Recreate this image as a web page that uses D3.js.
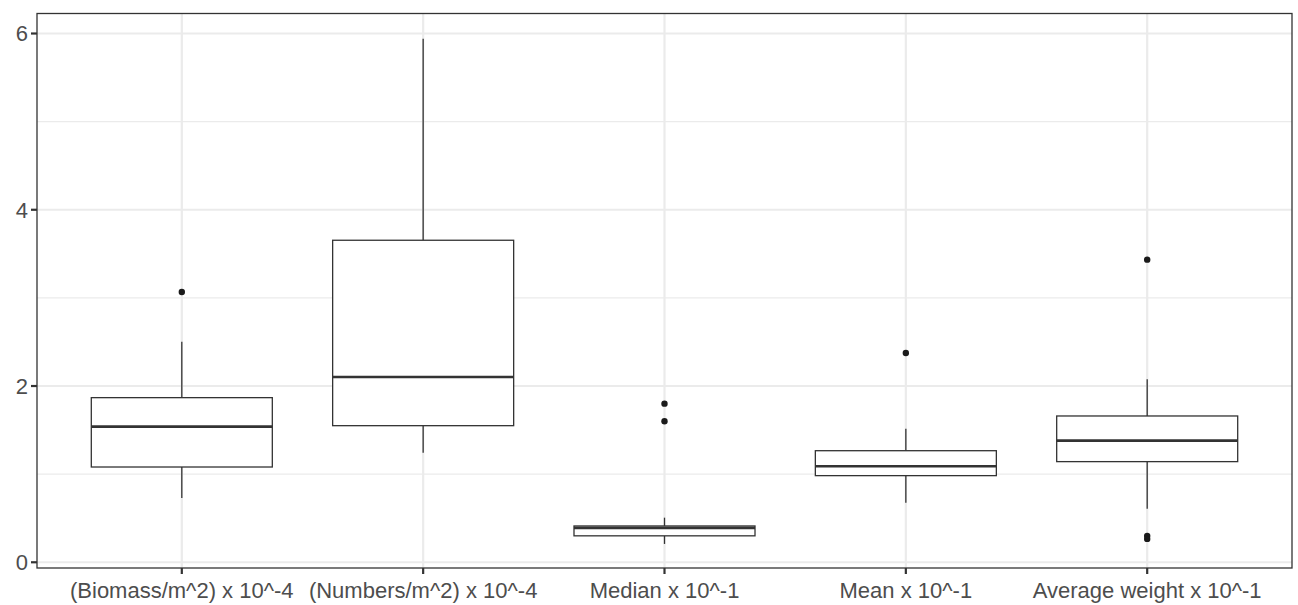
<!DOCTYPE html>
<html><head><meta charset="utf-8">
<script src="https://cdn.jsdelivr.net/npm/d3@7"></script>
<style>body{margin:0;background:#fff}</style></head>
<body><svg id="c" width="1298" height="605"></svg>
<script>
const categories = ["(Biomass/m^2) x 10^-4", "(Numbers/m^2) x 10^-4", "Median x 10^-1", "Mean x 10^-1", "Average weight x 10^-1"];
const lowerWhisker = [0.73, 1.244, 0.208, 0.676, 0.608];
const q1 = [1.081, 1.55, 0.30, 0.983, 1.142];
const median = [1.539, 2.103, 0.39, 1.089, 1.38];
const q3 = [1.868, 3.654, 0.412, 1.266, 1.66];
const upperWhisker = [2.503, 5.94, 0.506, 1.516, 2.076];
const outliers = [[3.067], [], [1.80, 1.60], [2.375], [3.434, 0.30, 0.265]];
const yTicks = [0, 2, 4, 6];
const yMinor = [1, 3, 5];

const svg = d3.select("#c");
const L = 37, R = 1292, T = 13.5, B = 568;
const ys = d3.scaleLinear().domain([-0.065, 6.227]).range([B, T]);
const unit = (R - L) / (categories.length + 0.2);
const xs = d3.scalePoint().domain(categories).range([L + unit * 0.6, R - unit * 0.6]);
const bw = unit * 0.75;
const FONT = "Liberation Sans, Arial, Helvetica, sans-serif";

const g = svg.append("g");
yMinor.forEach(v => g.append("line").attr("x1", L).attr("x2", R).attr("y1", ys(v)).attr("y2", ys(v)).attr("stroke", "#ebebeb").attr("stroke-width", 1.1));
yTicks.forEach(v => g.append("line").attr("x1", L).attr("x2", R).attr("y1", ys(v)).attr("y2", ys(v)).attr("stroke", "#ebebeb").attr("stroke-width", 2.2));
categories.forEach(c => g.append("line").attr("x1", xs(c)).attr("x2", xs(c)).attr("y1", T).attr("y2", B).attr("stroke", "#ebebeb").attr("stroke-width", 2.2));

categories.forEach((c, i) => {
  const cx = xs(c);
  const s = "#333333";
  g.append("line").attr("x1", cx).attr("x2", cx).attr("y1", ys(q3[i])).attr("y2", ys(upperWhisker[i])).attr("stroke", s).attr("stroke-width", 1.3);
  g.append("line").attr("x1", cx).attr("x2", cx).attr("y1", ys(q1[i])).attr("y2", ys(lowerWhisker[i])).attr("stroke", s).attr("stroke-width", 1.3);
  g.append("rect").attr("x", cx - bw / 2).attr("width", bw).attr("y", ys(q3[i])).attr("height", ys(q1[i]) - ys(q3[i]))
    .attr("fill", "#fff").attr("stroke", s).attr("stroke-width", 1.3);
  g.append("line").attr("x1", cx - bw / 2).attr("x2", cx + bw / 2).attr("y1", ys(median[i])).attr("y2", ys(median[i])).attr("stroke", s).attr("stroke-width", 2.6);
  outliers[i].forEach(v => g.append("circle").attr("cx", cx).attr("cy", ys(v)).attr("r", 3.2).attr("fill", "#1a1a1a"));
});

svg.append("rect").attr("x", L).attr("y", T).attr("width", R - L).attr("height", B - T).attr("fill", "none").attr("stroke", "#333333").attr("stroke-width", 1.3);

yTicks.forEach(v => {
  svg.append("line").attr("x1", L - 6).attr("x2", L).attr("y1", ys(v)).attr("y2", ys(v)).attr("stroke", "#333").attr("stroke-width", 2.2);
  svg.append("text").attr("x", L - 9).attr("y", ys(v)).attr("dy", "0.36em").attr("text-anchor", "end")
    .attr("font-family", FONT).attr("font-size", 22).attr("fill", "#4d4d4d").text(v);
});
categories.forEach(c => {
  svg.append("line").attr("x1", xs(c)).attr("x2", xs(c)).attr("y1", B).attr("y2", B + 6).attr("stroke", "#333").attr("stroke-width", 2.2);
  svg.append("text").attr("x", xs(c)).attr("y", B + 30).attr("text-anchor", "middle")
    .attr("font-family", FONT).attr("font-size", 22).attr("fill", "#4d4d4d").text(c);
});
</script></body></html>
